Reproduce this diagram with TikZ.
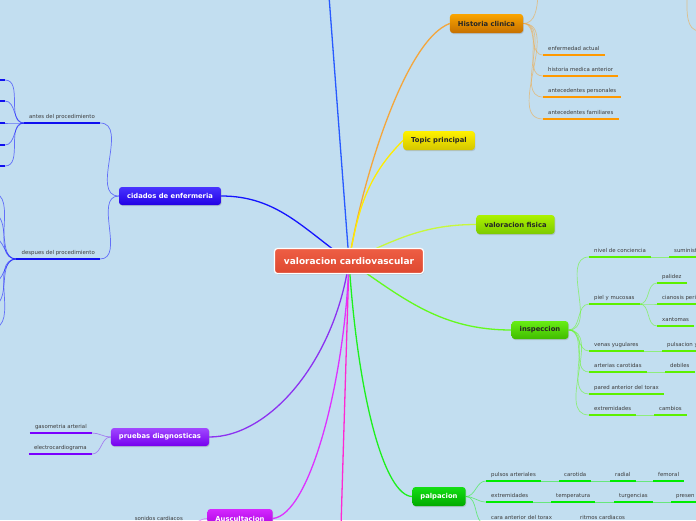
\documentclass[tikz,border=0pt]{standalone}
\usepackage{fontspec}
\setmainfont{DejaVu Sans}
\usepackage{xcolor}
\usetikzlibrary{shadows}
\pgfdeclarelayer{back}
\pgfsetlayers{back,main}

\definecolor{bgblue}{RGB}{194,222,240}
\definecolor{leaftxt}{RGB}{60,60,60}
\definecolor{rootA}{RGB}{238,94,68}
\definecolor{rootB}{RGB}{222,72,48}
\definecolor{orA}{RGB}{250,165,0}
\definecolor{orB}{RGB}{198,112,0}
\definecolor{orln}{RGB}{244,166,60}
\definecolor{orul}{RGB}{255,153,0}
\definecolor{yeA}{RGB}{255,242,0}
\definecolor{yeB}{RGB}{212,198,0}
\definecolor{yeln}{RGB}{255,236,0}
\definecolor{liA}{RGB}{172,242,0}
\definecolor{liB}{RGB}{124,202,0}
\definecolor{liln}{RGB}{200,248,60}
\definecolor{inA}{RGB}{104,238,20}
\definecolor{inB}{RGB}{64,188,0}
\definecolor{inln}{RGB}{100,250,30}
\definecolor{inul}{RGB}{92,240,0}
\definecolor{paA}{RGB}{20,222,20}
\definecolor{paB}{RGB}{0,170,0}
\definecolor{paln}{RGB}{30,240,30}
\definecolor{paul}{RGB}{0,236,0}
\definecolor{puA}{RGB}{160,72,255}
\definecolor{puB}{RGB}{118,0,238}
\definecolor{puln}{RGB}{140,50,240}
\definecolor{puul}{RGB}{122,0,255}
\definecolor{auA}{RGB}{212,40,255}
\definecolor{auB}{RGB}{168,0,220}
\definecolor{auln}{RGB}{222,50,255}
\definecolor{auul}{RGB}{200,0,255}
\definecolor{cdA}{RGB}{72,52,255}
\definecolor{cdB}{RGB}{34,0,228}
\definecolor{cdln}{RGB}{20,20,255}
\definecolor{cdul}{RGB}{16,16,240}
\definecolor{upln}{RGB}{40,90,255}
\definecolor{mgln}{RGB}{255,40,210}

\begin{document}
\begin{tikzpicture}[x=1pt, y=1pt,
  topic/.style={rounded corners=3pt, font=\fontsize{6.8}{8}\selectfont\bfseries,
    minimum height=19pt, inner xsep=8pt, inner ysep=2pt,
    drop shadow={shadow xshift=0.7pt, shadow yshift=-1pt, opacity=0.3}},
  leaf/.style={font=\fontsize{5.4}{6}\selectfont, text=leaftxt, inner xsep=5pt,
    inner ysep=3pt, text height=4pt, text depth=1pt,
    append after command={(\tikzlastnode.south west) edge[line width=2.4pt, draw=#1] (\tikzlastnode.south east)}},
  rleaf/.style={leaf=#1, anchor=south west},
  lleaf/.style={leaf=#1, anchor=south east},
  branch/.style={line width=1.3pt, draw=#1},
  twig/.style={line width=0.7pt, draw=#1, draw opacity=0.55}]
\useasboundingbox (0,0) rectangle (696,-520);

%center
  \node[rounded corners=3pt, draw=white, line width=1.2pt, top color=rootA, bottom color=rootB,
    text=white, font=\fontsize{9}{10}\selectfont\bfseries, minimum width=149pt, minimum height=25pt,
    drop shadow={shadow xshift=0.7pt, shadow yshift=-1pt, opacity=0.3}] (root) at (349,-261) {valoracion cardiovascular};

%topics
  \node[topic, top color=orA, bottom color=orB, text=black!85] (hist) at (486.5,-23.5) {Historia clinica};
  \node[topic, top color=yeA, bottom color=yeB, text=black!85] (tpc) at (439,-140.5) {Topic principal};
  \node[topic, top color=liA, bottom color=liB, text=black!85] (fis) at (515.5,-224.5) {valoracion fisica};
  \node[topic, top color=inA, bottom color=inB, text=black!85, minimum height=18pt] (insp) at (540,-330) {inspeccion};
  \node[topic, top color=paA, bottom color=paB, text=white] (palp) at (439,-496.5) {palpacion};
  \node[topic, top color=auA, bottom color=auB, text=white] (ausc) at (240,-518.5) {Auscultacion};
  \node[topic, top color=puA, bottom color=puB, text=white, minimum height=18pt] (prue) at (160,-437) {pruebas diagnosticas};
  \node[topic, top color=cdA, bottom color=cdB, text=white, minimum height=18pt] (cuid) at (170,-196) {cidados de enfermeria};

%leaves
  \node[rleaf=orul] (enf) at (543,-55) {enfermedad actual};
  \node[rleaf=orul] (hma) at (543,-76) {historia medica anterior};
  \node[rleaf=orul] (aper) at (543,-97) {antecedentes personales};
  \node[rleaf=orul] (afam) at (543,-119) {antecedentes familiares};

  \node[lleaf=cdul] (antes) at (100,-123) {antes del procedimiento};
  \node[lleaf=cdul] (desp) at (100,-259) {despues del procedimiento};

  \node[lleaf=puul] (gaso) at (92,-433) {gasometria arterial};
  \node[lleaf=puul] (ecg) at (92,-454) {electrocardiograma};

  \node[lleaf=auul] (sonid) at (188,-525) {sonidos cardiacos};

  \node[rleaf=inul] (nivel) at (589,-257) {nivel de conciencia};
  \node[rleaf=inul] (sumin) at (669,-257) {suministr};
  \node[rleaf=inul] (piel) at (589,-304) {piel y mucosas};
  \node[rleaf=inul] (palid) at (657,-283) {palidez};
  \node[rleaf=inul] (cian) at (657,-304) {cianosis peri};
  \node[rleaf=inul] (xant) at (657,-326) {xantomas};
  \node[rleaf=inul] (venas) at (589,-351) {venas yugulares};
  \node[rleaf=inul] (pulsy) at (662,-351) {pulsacion y};
  \node[rleaf=inul] (carot) at (589,-372) {arterias carotidas};
  \node[rleaf=inul] (debil) at (665,-372) {debiles};
  \node[rleaf=inul] (pared) at (589,-394) {pared anterior del torax};
  \node[rleaf=inul] (extri) at (589,-415) {extremidades};
  \node[rleaf=inul] (camb) at (654,-415) {cambios};

  \node[rleaf=paul] (puls) at (486,-481) {pulsos arteriales};
  \node[rleaf=paul] (pcar) at (559,-481) {carotida};
  \node[rleaf=paul] (prad) at (610,-481) {radial};
  \node[rleaf=paul] (pfem) at (653,-481) {femoral};
  \node[rleaf=paul] (extrp) at (486,-502) {extremidades};
  \node[rleaf=paul] (temp) at (551,-502) {temperatura};
  \node[rleaf=paul] (turg) at (614,-502) {turgencias};
  \node[rleaf=paul] (pres) at (671,-502) {presen};
  \node[rleaf=paul] (cara) at (486,-524) {cara anterior del torax};
  \node[rleaf=paul] (ritm) at (575,-524) {ritmos cardiacos};

%off-canvas ends
  \coordinate (up) at (329,4);
  \coordinate (down) at (341,-526);
  \coordinate (hup) at (538,4);
  \coordinate (tr0) at (687,4);
  \coordinate (tr1) at (700,-31);

\begin{pgfonlayer}{back}
  \fill[bgblue] (0,0) rectangle (696,-520);

%branches
  \draw[branch=upln] (root.center) -- (up);
  \draw[branch=mgln] (root.center) -- (down);
  \draw[branch=orln] (root.center) .. controls (362,-180) and (405,-40) .. (hist.west);
  \draw[branch=yeln] (root.center) to[out=80,in=225] (tpc.west);
  \draw[branch=liln] (root.center) to[out=25,in=180] (fis.west);
  \draw[branch=inln] (root.center) to[out=-35,in=180] (insp.west);
  \draw[branch=paln] (root.center) .. controls (358,-400) and (385,-496) .. (palp.west);
  \draw[branch=auln] (root.center) .. controls (345,-380) and (310,-515) .. (ausc.east);
  \draw[branch=puln] (root.center) .. controls (335,-360) and (270,-437) .. (prue.east);
  \draw[branch=cdln] (root.center) to[out=145,in=0] (cuid.east);

%twigs
  \foreach \n in {enf,hma,aper,afam}
    \draw[twig=orln] (hist.east) to[out=0,in=180] (\n.south west);
  \draw[twig=orln] (hist.east) to[out=0,in=-95] (hup);
  \draw[twig=orln] (tr0) to[out=-90,in=180] (tr1);

  \foreach \n in {antes,desp}
    \draw[twig=cdln] (cuid.west) to[out=180,in=0] (\n.south east);
  \foreach \y [count=\i] in {80,101,123,145,166}{
    \coordinate (st\i) at (5,-\y);
    \draw[twig=cdln] (antes.south west) to[out=180,in=0] (st\i);
    \draw[line width=2.4pt, cdul] (0,-\y) -- (st\i);
  }
  \foreach \y [count=\i] in {193,214,237,283,305,328}{
    \coordinate (ds\i) at (-8,-\y);
    \draw[twig=cdln] (desp.south west) to[out=180,in=0] (ds\i);
  }

  \foreach \n in {gaso,ecg}
    \draw[twig=puln] (prue.west) to[out=180,in=0] (\n.south east);
  \draw[twig=auln] (ausc.west) to[out=180,in=0] (sonid.south east);

  \foreach \n in {nivel,piel,venas,carot,pared,extri}
    \draw[twig=inln] (insp.east) to[out=0,in=180] (\n.south west);
  \foreach \n in {palid,cian,xant}
    \draw[twig=inln] (piel.south east) to[out=0,in=180] (\n.south west);
  \draw[twig=inln] (nivel.south east) -- (sumin.south west);
  \draw[twig=inln] (venas.south east) -- (pulsy.south west);
  \draw[twig=inln] (carot.south east) -- (debil.south west);
  \draw[twig=inln] (extri.south east) -- (camb.south west);

  \foreach \n in {puls,extrp,cara}
    \draw[twig=paln] (palp.east) to[out=0,in=180] (\n.south west);
  \draw[twig=paln] (puls.south east) -- (pcar.south west);
  \draw[twig=paln] (pcar.south east) -- (prad.south west);
  \draw[twig=paln] (prad.south east) -- (pfem.south west);
  \draw[twig=paln] (extrp.south east) -- (temp.south west);
  \draw[twig=paln] (temp.south east) -- (turg.south west);
  \draw[twig=paln] (turg.south east) -- (pres.south west);
  \draw[twig=paln] (cara.south east) -- (ritm.south west);
\end{pgfonlayer}
\end{tikzpicture}
\end{document}
